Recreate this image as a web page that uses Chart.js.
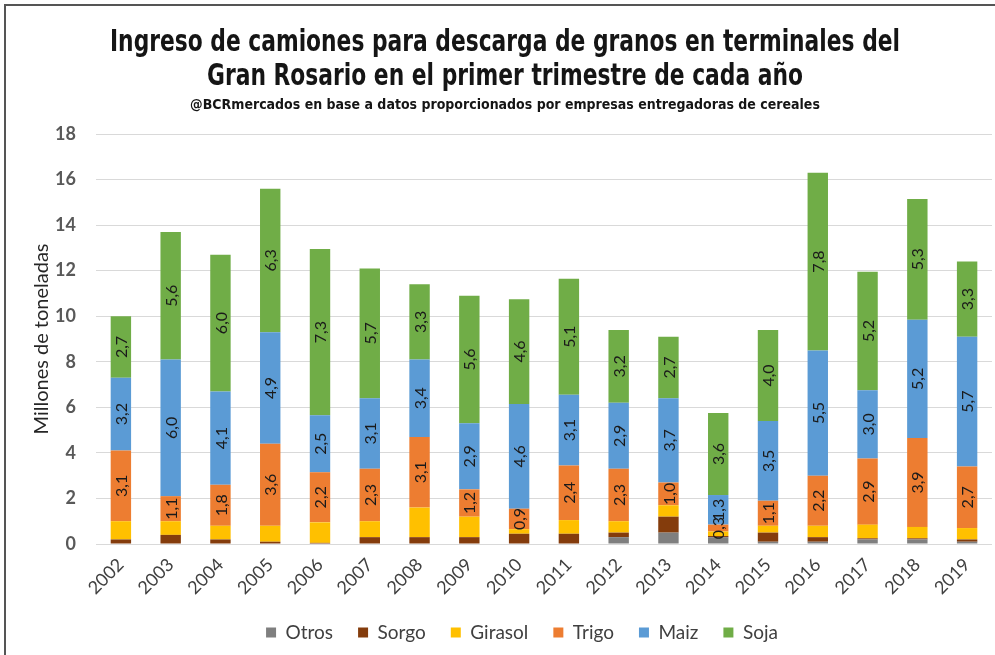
<!DOCTYPE html>
<html>
<head>
<meta charset="utf-8">
<script src="https://cdn.jsdelivr.net/npm/chart.js@4"></script>
<style>
body { margin: 0; background: #fff; }
#wrap { position: relative; width: 995px; height: 655px; }
#frame { position: absolute; left: 4px; top: 4px; right: 0; bottom: 0; border-left: 2px solid #555; border-top: 2px solid #555; pointer-events: none; }
</style>
</head>
<body>
<div id="wrap">
<canvas id="chart" width="995" height="655"></canvas>
<div id="frame"></div>
</div>
<script>
var years = ['2002','2003','2004','2005','2006','2007','2008','2009','2010','2011','2012','2013','2014','2015','2016','2017','2018','2019'];
var otros   = [0, 0, 0, 0, 0, 0, 0, 0, 0, 0, 0.3, 0.5, 0.3, 0.1, 0.1, 0.2, 0.2, 0.1];
var sorgo   = [0.2, 0.4, 0.2, 0.1, 0.05, 0.3, 0.3, 0.3, 0.45, 0.45, 0.2, 0.7, 0.05, 0.4, 0.2, 0.05, 0.05, 0.1];
var girasol = [0.8, 0.6, 0.6, 0.7, 0.9, 0.7, 1.3, 0.9, 0.2, 0.6, 0.5, 0.5, 0.2, 0.3, 0.5, 0.6, 0.5, 0.5];
var trigo   = [3.1, 1.1, 1.8, 3.6, 2.2, 2.3, 3.1, 1.2, 0.9, 2.4, 2.3, 1.0, 0.3, 1.1, 2.2, 2.9, 3.9, 2.7];
var maiz    = [3.2, 6.0, 4.1, 4.9, 2.5, 3.1, 3.4, 2.9, 4.6, 3.1, 2.9, 3.7, 1.3, 3.5, 5.5, 3.0, 5.2, 5.7];
var soja    = [2.7, 5.6, 6.0, 6.3, 7.3, 5.7, 3.3, 5.6, 4.6, 5.1, 3.2, 2.7, 3.6, 4.0, 7.8, 5.2, 5.3, 3.3];
var yTicks  = [0, 2, 4, 6, 8, 10, 12, 14, 16, 18];

var titleLines = ['Ingreso de camiones para descarga de granos en terminales del', 'Gran Rosario en el primer trimestre de cada año'];
var subtitleText = '@BCRmercados en base a datos proporcionados por empresas entregadoras de cereales';

var condensed = "'Liberation Sans Narrow', 'DejaVu Sans Condensed', 'Roboto Condensed', sans-serif";
var bodyFont = "Lato, 'Open Sans', sans-serif";

// narrow bold heading, squeezed to the reference width with fillText's maxWidth
var heading = {
    id: 'heading',
    afterDraw: function(chart) {
        var ctx = chart.ctx;
        ctx.save();
        ctx.fillStyle = '#151515';
        ctx.textAlign = 'center';
        ctx.textBaseline = 'alphabetic';
        ctx.font = 'bold 31px ' + condensed;
        ctx.fillText(titleLines[0], 505, 51, 790);
        ctx.fillText(titleLines[1], 505, 85, 596);
        ctx.font = 'bold 14px ' + condensed;
        ctx.fillText(subtitleText, 505, 109, 640);
        ctx.restore();
    }
};

// the legend sits a little right of centre, under the plot
var legendShift = {
    id: 'legendShift',
    afterLayout: function(chart) {
        chart.legend.left += 24;
        chart.legend.right += 24;
    }
};

// rotated value labels in the middle of the Trigo / Maiz / Soja segments
var segmentLabels = {
    id: 'segmentLabels',
    afterDatasetsDraw: function(chart) {
        var ctx = chart.ctx;
        ctx.save();
        ctx.font = '16px ' + bodyFont;
        ctx.fillStyle = '#1a1a1a';
        ctx.textAlign = 'center';
        ctx.textBaseline = 'middle';
        chart.data.datasets.forEach(function(ds, i) {
            if (!ds.showLabels) return;
            var meta = chart.getDatasetMeta(i);
            meta.data.forEach(function(bar, j) {
                var p = bar.getProps(['x', 'y', 'base'], true);
                var cy = (p.y + p.base) / 2;
                ctx.save();
                ctx.translate(p.x + 1, cy);
                ctx.rotate(-Math.PI / 2);
                ctx.fillText(ds.data[j].toFixed(1).replace('.', ','), 0, 0);
                ctx.restore();
            });
        });
        ctx.restore();
    }
};

function makeSet(label, data, color, showLabels) {
    return {
        label: label,
        data: data,
        backgroundColor: color,
        borderWidth: 0,
        categoryPercentage: 1,
        barPercentage: 0.41,
        showLabels: showLabels
    };
}

var ctx = document.getElementById('chart').getContext('2d');
var chart = new Chart(ctx, {
    type: 'bar',
    data: {
        labels: years,
        datasets: [
            makeSet('Otros', otros, '#7f7f7f', false),
            makeSet('Sorgo', sorgo, '#843c0c', false),
            makeSet('Girasol', girasol, '#ffc000', false),
            makeSet('Trigo', trigo, '#ed7d31', true),
            makeSet('Maiz', maiz, '#5b9bd5', true),
            makeSet('Soja', soja, '#70ad47', true)
        ]
    },
    options: {
        responsive: false,
        animation: false,
        layout: { padding: { left: 4, right: 3, top: 134, bottom: 3 } },
        plugins: {
            title: { display: false },
            legend: {
                position: 'bottom',
                labels: {
                    boxWidth: 10,
                    boxHeight: 10,
                    padding: 25,
                    color: '#404040',
                    font: { family: bodyFont, size: 19 }
                }
            },
            tooltip: { enabled: false }
        },
        scales:
        {
            x:
            {
                stacked: true,
                grid: { display: false },
                border: { display: false },
                afterFit: function(scale) { scale.height = 54; },
                ticks:
                {
                    color: '#404040',
                    font: { family: bodyFont, size: 18 },
                    minRotation: 45,
                    maxRotation: 45,
                    padding: 2
                }
            },
            y:
            {
                stacked: true,
                min: 0,
                max: 18,
                afterBuildTicks: function(scale) {
                    scale.ticks = yTicks.map(function(v) { return { value: v }; });
                },
                afterFit: function(scale) { scale.width = 92; },
                grid: { color: '#d9d9d9', drawTicks: false },
                border: { display: false },
                title:
                {
                    display: true,
                    text: 'Millones de toneladas',
                    color: '#262626',
                    font: { family: bodyFont, size: 20 },
                    padding: { top: 26, bottom: 4 }
                },
                ticks:
                {
                    color: '#595959',
                    font: { family: bodyFont, size: 18, weight: 'bold' },
                    padding: 20
                }
            }
        }
    },
    plugins: [segmentLabels, heading, legendShift]
});
</script>
</body>
</html>
